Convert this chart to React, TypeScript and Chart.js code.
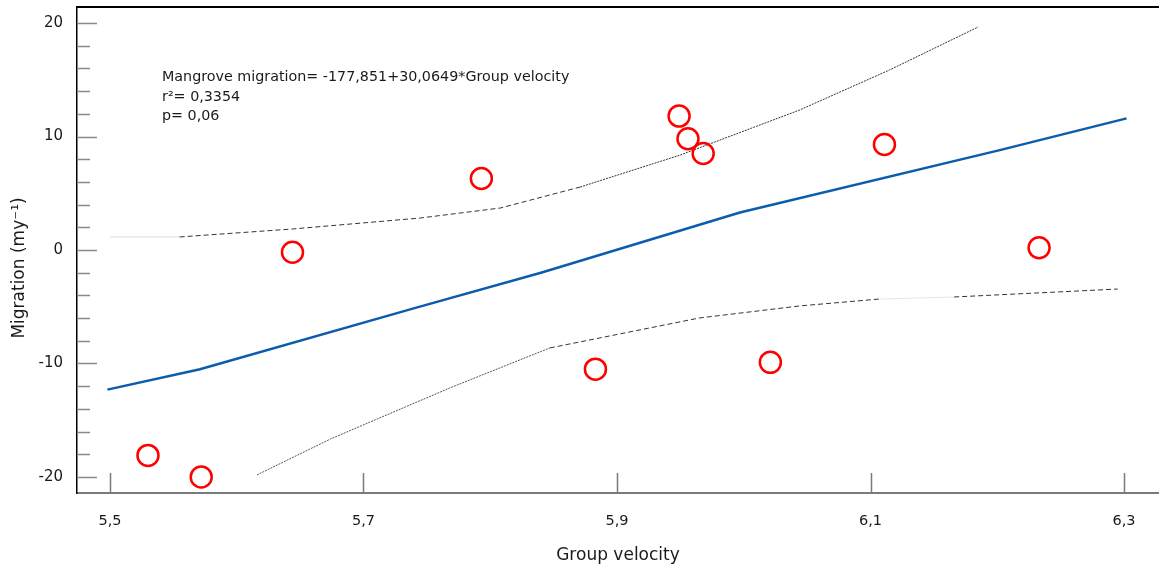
import React, { useEffect, useRef } from 'react';
import { Chart, registerables } from 'chart.js';

Chart.register(...registerables);

// Observations
const groupVelocity = [5.53, 5.572, 5.644, 5.793, 5.883, 5.949, 5.956, 5.968, 6.021, 6.111, 6.233];
const migration = [-18.1, -20.0, -0.2, 6.3, -10.5, 11.8, 9.8, 8.5, -9.9, 9.3, 0.2];

// Regression line
const fitX = [5.498, 5.571, 5.741, 5.84, 5.997, 6.202, 6.302];
const fitY = [-12.3, -10.5, -5.1, -2.0, 3.3, 8.8, 11.6];

// Confidence band, upper
const upperX = [5.5, 5.555, 5.644, 5.745, 5.808, 5.871, 5.95, 6.044, 6.115, 6.185];
const upperY = [1.15, 1.15, 1.85, 2.82, 3.7, 5.55, 8.37, 12.33, 15.86, 19.65];

// Confidence band, lower
const lowerX = [5.616, 5.674, 5.768, 5.847, 5.965, 6.044, 6.107, 6.166, 6.295];
const lowerY = [-19.82, -16.65, -12.16, -8.63, -5.99, -4.93, -4.32, -4.14, -3.44];

// Axes
const xTicks = [5.5, 5.7, 5.9, 6.1, 6.3];
const yTicks = [-20, -10, 0, 10, 20];
const yMinorTicks = [-18, -16, -14, -12, -8, -6, -4, -2, 2, 4, 6, 8, 12, 14, 16, 18];
const xRange = [5.474, 6.3276];
const yRange = [-21.41, 21.41];

const equationLines = [
  'Mangrove migration= -177,851+30,0649*Group velocity',
  'r\u00B2= 0,3354',
  'p= 0,06',
];
const xTitle = 'Group velocity';
const yTitle = 'Migration (my\u207B\u00B9)';

const FONT = '"DejaVu Sans", Verdana, sans-serif';

const decorPlugin = {
  id: 'decor',
  beforeDatasetsDraw(chart: any) {
    const { ctx, chartArea, scales } = chart;
    const xs = scales.x;
    const ys = scales.y;
    ctx.save();
    // top frame line
    ctx.strokeStyle = '#000';
    ctx.lineWidth = 2;
    ctx.beginPath();
    ctx.moveTo(chartArea.left - 1, chartArea.top);
    ctx.lineTo(chartArea.right, chartArea.top);
    ctx.stroke();

    // inner y ticks
    ctx.strokeStyle = '#8a8a8a';
    ctx.lineWidth = 1.5;
    yTicks.forEach((v) => {
      const p = Math.round(ys.getPixelForValue(v)) + 0.5;
      ctx.beginPath();
      ctx.moveTo(chartArea.left, p);
      ctx.lineTo(chartArea.left + 20, p);
      ctx.stroke();
    });
    yMinorTicks.forEach((v) => {
      const p = Math.round(ys.getPixelForValue(v)) + 0.5;
      ctx.beginPath();
      ctx.moveTo(chartArea.left, p);
      ctx.lineTo(chartArea.left + 13, p);
      ctx.stroke();
    });
    // inner x ticks
    ctx.strokeStyle = '#7a7a7a';
    xTicks.forEach((v) => {
      const p = Math.round(xs.getPixelForValue(v)) + 0.5;
      ctx.beginPath();
      ctx.moveTo(p, chartArea.bottom);
      ctx.lineTo(p, chartArea.bottom - 20);
      ctx.stroke();
    });

    // equation text
    ctx.fillStyle = '#1a1a1a';
    ctx.font = '14.3px ' + FONT;
    ctx.textAlign = 'left';
    ctx.textBaseline = 'alphabetic';
    const tx = chartArea.left + 85;
    const baselines = [74, 94, 113];
    equationLines.forEach((t, i) => ctx.fillText(t, tx, chartArea.top + baselines[i]));

    // axis titles
    ctx.font = '17px ' + FONT;
    ctx.textAlign = 'center';
    ctx.textBaseline = 'middle';
    ctx.fillText(xTitle, (chartArea.left + chartArea.right) / 2, 556);
    ctx.save();
    ctx.translate(20, 268);
    ctx.rotate(-Math.PI / 2);
    ctx.fillText(yTitle, 0, 0);
    ctx.restore();
    ctx.restore();
  },
};

const zeroPad = (s: any) => {
  s.paddingTop = 0;
  s.paddingBottom = 0;
  s.paddingLeft = 0;
  s.paddingRight = 0;
};

export default function App() {
  const ref = useRef<HTMLCanvasElement | null>(null);
  useEffect(() => {
    if (!ref.current) return;
    const toPts = (xa: number[], ya: number[]) => xa.map((x, i) => ({ x, y: ya[i] }));
    const chart = new Chart(ref.current, {
      type: 'scatter',
      data: {
        datasets: [
          {
            label: 'Observations',
            data: toPts(groupVelocity, migration),
            showLine: false,
            pointRadius: 10.5,
            pointBorderWidth: 2.5,
            pointBorderColor: '#ff0000',
            pointBackgroundColor: 'rgba(0,0,0,0)',
            order: 0,
          },
          {
            label: 'Fit',
            data: toPts(fitX, fitY),
            showLine: true,
            borderColor: '#0b5cad',
            borderWidth: 2.5,
            pointRadius: 0,
            tension: 0,
            order: 1,
          },
          {
            label: 'Upper',
            data: toPts(upperX, upperY),
            showLine: true,
            borderColor: '#333333',
            borderWidth: 1,
            borderDash: [5, 3],
            pointRadius: 0,
            tension: 0,
            order: 2,
            segment: {
              borderColor: (c: any) => (c.p0DataIndex === 0 ? '#dddddd' : undefined),
              borderDash: (c: any) => (c.p0DataIndex === 0 ? [] : c.p0DataIndex >= 5 ? [2, 1] : undefined),
            },
          },
          {
            label: 'Lower',
            data: toPts(lowerX, lowerY),
            showLine: true,
            borderColor: '#333333',
            borderWidth: 1,
            borderDash: [5, 3],
            pointRadius: 0,
            tension: 0,
            order: 2,
            segment: {
              borderColor: (c: any) => (c.p0DataIndex === 6 ? '#e6e6e6' : c.p0DataIndex < 3 ? '#555555' : undefined),
              borderDash: (c: any) => (c.p0DataIndex === 6 ? [] : c.p0DataIndex < 3 ? [2, 1] : undefined),
            },
          },
        ],
      },
      options: {
        animation: false,
        responsive: true,
        maintainAspectRatio: false,
        events: [],
        layout: { autoPadding: false, padding: { top: 7, left: 0, right: 0, bottom: 0 } },
        plugins: { legend: { display: false }, tooltip: { enabled: false } },
        scales: {
          x: {
            type: 'linear',
            min: xRange[0],
            max: xRange[1],
            afterBuildTicks: (s: any) => {
              s.ticks = xTicks.map((v) => ({ value: v }));
            },
            afterFit: (s: any) => {
              s.height = 78;
              zeroPad(s);
            },
            grid: { display: true, drawOnChartArea: false, drawTicks: false },
            border: { display: true, color: '#7a7a7a', width: 2 },
            ticks: {
              padding: 20,
              maxRotation: 0,
              color: '#1a1a1a',
              font: { family: FONT, size: 14.5 },
              callback: (v: any) => Number(v).toFixed(1).replace('.', ','),
            },
          },
          y: {
            type: 'linear',
            min: yRange[0],
            max: yRange[1],
            afterBuildTicks: (s: any) => {
              s.ticks = yTicks.map((v) => ({ value: v }));
            },
            afterFit: (s: any) => {
              s.width = 77;
              zeroPad(s);
            },
            grid: { display: true, drawOnChartArea: false, drawTicks: false },
            border: { display: true, color: '#000000', width: 1.5 },
            ticks: {
              padding: 14,
              color: '#1a1a1a',
              font: { family: FONT, size: 15, lineHeight: 1 },
              callback: (v: any) => String(v),
            },
          },
        },
      },
      plugins: [decorPlugin],
    } as any);
    return () => chart.destroy();
  }, []);
  return (
    <div style={{ position: 'fixed', left: 0, top: 0, width: 1159, height: 571 }}>
      <canvas ref={ref} />
    </div>
  );
}
